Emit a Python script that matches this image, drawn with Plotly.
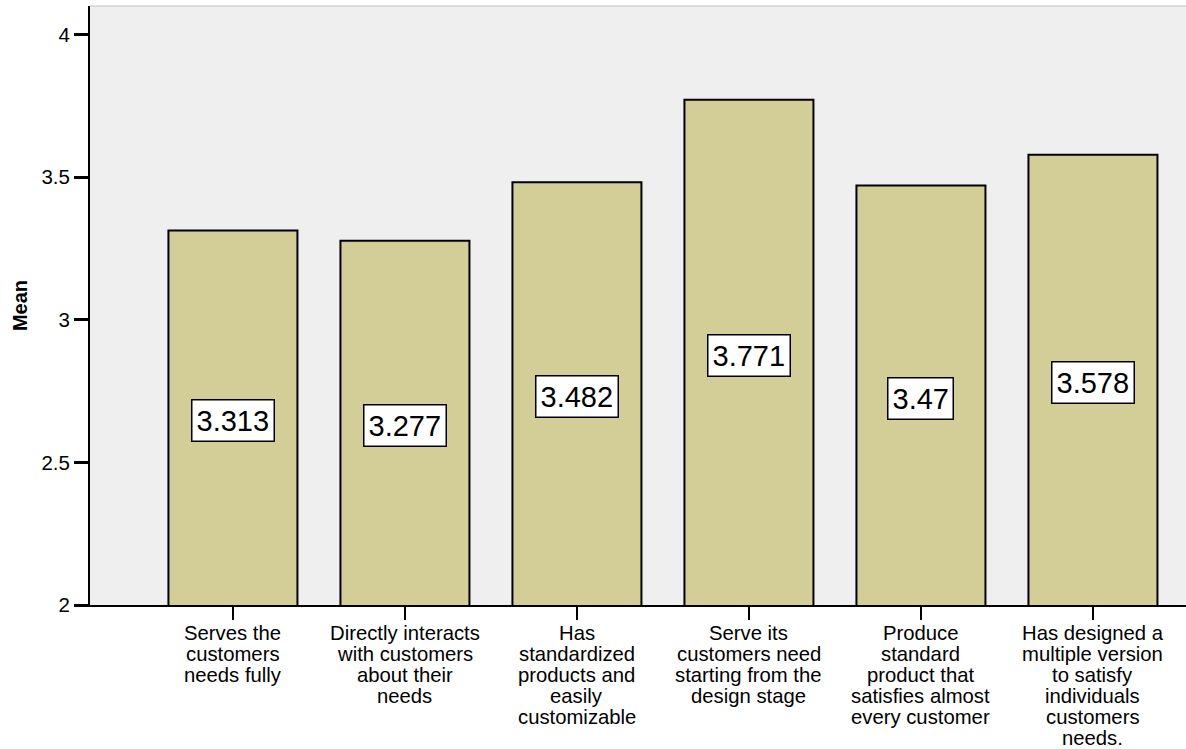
import plotly.graph_objects as go

categories = [
    "Serves the\ncustomers\nneeds fully",
    "Directly interacts\nwith customers\nabout their\nneeds",
    "Has\nstandardized\nproducts and\neasily\ncustomizable",
    "Serve its\ncustomers need\nstarting from the\ndesign stage",
    "Produce\nstandard\nproduct that\nsatisfies almost\nevery customer",
    "Has designed a\nmultiple version\nto satisfy\nindividuals\ncustomers\nneeds.",
]
means = [3.313, 3.277, 3.482, 3.771, 3.47, 3.578]
value_labels = ["3.313", "3.277", "3.482", "3.771", "3.47", "3.578"]
y_ticks = [2, 2.5, 3, 3.5, 4]
y_tick_labels = ["2", "2.5", "3", "3.5", "4"]

FONT = "Arial, Liberation Sans, sans-serif"
BAR_COLOR = "#d3ce97"

fig = go.Figure()
fig.add_trace(go.Bar(
    x=categories,
    y=means,
    marker=dict(color=BAR_COLOR, line=dict(color="#000000", width=2)),
    width=0.75,
    hoverinfo="skip",
))

annotations = []
# value labels at bar midpoints
for cat, v, lab in zip(categories, means, value_labels):
    annotations.append(dict(
        x=cat, y=(2 + v) / 2, xref="x", yref="y",
        text=lab, showarrow=False,
        font=dict(family=FONT, size=29, color="#000000"),
        bgcolor="#ffffff", bordercolor="#000000", borderwidth=1.5, borderpad=4,
        yshift=-3,
    ))
# category labels, one annotation per line for tight line spacing
for cat in categories:
    for j, line in enumerate(cat.split("\n")):
        annotations.append(dict(
            x=cat, y=0, xref="x", yref="paper",
            text=line, showarrow=False,
            font=dict(family=FONT, size=20.3, color="#000000"),
            xanchor="center", yanchor="middle",
            yshift=-(28 + j * 20.9),
        ))

fig.update_layout(
    width=1186, height=749,
    margin=dict(l=90, r=0, t=6, b=144),
    paper_bgcolor="#ffffff",
    plot_bgcolor="#efefef",
    showlegend=False,
    font=dict(family=FONT, size=20, color="#000000"),
    annotations=annotations,
    shapes=[dict(type="line", xref="paper", yref="paper", x0=0, x1=1, y0=1, y1=1,
                 line=dict(color="#c0c0c0", width=1))],
)
fig.update_xaxes(
    type="category",
    range=[-0.831, 5.541],
    showticklabels=False,
    ticks="outside", ticklen=13, tickwidth=2, tickcolor="#000000",
    showline=True, linecolor="#000000", linewidth=2,
    showgrid=False, zeroline=False,
)
fig.update_yaxes(
    range=[2, 4.0996],
    tickvals=y_ticks, ticktext=y_tick_labels,
    ticks="outside", ticklen=14, tickwidth=2.5, tickcolor="#000000",
    tickfont=dict(family=FONT, size=20.5, color="#000000"),
    showline=True, linecolor="#000000", linewidth=2,
    showgrid=False, zeroline=False,
    title=dict(text="<b>Mean</b>", font=dict(family=FONT, size=20, color="#000000"), standoff=8),
)

fig.write_html("out.html", config={"displayModeBar": False},
               post_script="document.body.style.margin='0px';")
